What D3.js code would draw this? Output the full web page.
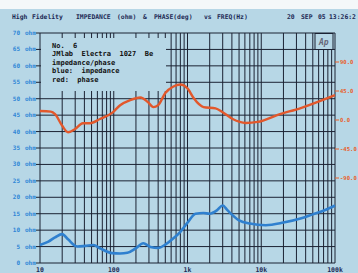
<!DOCTYPE html>
<html>
<head>
<meta charset="utf-8">
<script src="https://cdn.jsdelivr.net/npm/d3@7"></script>
<style>
  body { margin: 0; background: #fff; }
  svg text { font-family: "DejaVu Sans Mono", monospace; font-weight: bold; }
</style>
</head>
<body>
<svg id="chart" width="358" height="273"></svg>
<script>
// impedance (ohm) vs frequency (Hz)
var impFreq = [10, 13, 16, 20, 24, 32, 41, 53, 65, 95, 122, 153, 200, 252, 314, 403, 500, 645, 800, 1000, 1285, 1650, 2000, 2500, 3000, 3500, 5000, 7000, 11500, 20000, 35000, 50000, 75000, 100000];
var impOhm  = [5.5, 6.5, 7.8, 8.8, 7.2, 5.0, 5.2, 5.5, 4.5, 3.0, 2.9, 3.1, 4.5, 6.0, 4.9, 4.6, 5.6, 7.5, 9.5, 12.3, 15.0, 15.2, 15.0, 16.0, 17.5, 16.0, 13.0, 12.0, 11.5, 12.3, 13.6, 14.8, 16.2, 17.5];
// phase (deg) vs frequency (Hz)
var phFreq = [10, 14, 16, 20, 24, 30, 38, 48, 65, 95, 122, 167, 230, 290, 345, 400, 500, 645, 800, 1000, 1210, 1650, 2400, 3000, 4100, 6150, 9000, 16750, 34400, 100000];
var phDeg  = [14, 13, 9, -9, -19, -14, -5, -5, 1.5, 11, 23, 31, 35, 28, 20, 23, 42, 52, 55, 49, 34, 20, 18, 12, 1.5, -4.6, -3, 8, 18.5, 38.5];

var ohmTicks = [0, 5, 10, 15, 20, 25, 30, 35, 40, 45, 50, 55, 60, 65, 70];
var degTicks = [90, 45, 0, -45, -90];
var freqTicks = [10, 100, 1000, 10000, 100000];
var freqLabels = ['10', '100', '1k', '10k', '100k'];
var legendLines = ['No.  6', 'JMlab  Electra  1027  Be', 'impedance/phase', 'blue:  impedance', 'red:  phase'];
var header = [['High', 12], ['Fidelity', 32], ['IMPEDANCE', 76], ['(ohm)', 117], ['&', 143], ['PHASE(deg)', 154], ['vs', 204], ['FREQ(Hz)', 217], ['20', 287], ['SEP', 301], ['05', 318], ['13:26:2', 329]];

var bg = '#b7d7e6', gridC = '#1b2233';
var svg = d3.select('#chart');

var x = d3.scaleLog().domain([10, 100000]).range([40, 335]);
var y = d3.scaleLinear().domain([0, 70]).range([263, 33]);
var yp = d3.scaleLinear().domain([-90, 90]).range([178, 62]);

svg.append('rect').attr('width', 358).attr('height', 273).attr('fill', bg);
svg.append('rect').attr('width', 358).attr('height', 9).attr('fill', '#f4f8f9');

// header
svg.selectAll('text.hdr').data(header).enter().append('text')
  .attr('class', 'hdr').attr('x', function(d) { return d[1]; }).attr('y', 19)
  .attr('font-size', 6.4).attr('fill', '#1d2a55').text(function(d) { return d[0]; });

// vertical log grid
var vLines = [];
[10, 100, 1000, 10000].forEach(function(d) {
  for (var k = 1; k <= 9; k++) vLines.push(d * k);
});
vLines.push(100000);

var grid = svg.append('g');
grid.selectAll('line.v').data(vLines).enter().append('line')
  .attr('x1', function(d) { return x(d); }).attr('x2', function(d) { return x(d); })
  .attr('y1', y(70)).attr('y2', y(0))
  .attr('stroke', gridC).attr('stroke-width', 1);
grid.selectAll('line.h').data(ohmTicks).enter().append('line')
  .attr('x1', x(10)).attr('x2', x(100000))
  .attr('y1', function(d) { return y(d); }).attr('y2', function(d) { return y(d); })
  .attr('stroke', gridC).attr('stroke-width', 1);

// legend box hides the grid, leaves short top ticks
svg.append('rect').attr('x', 41).attr('y', 38).attr('width', 125).attr('height', 53).attr('fill', bg);

// Ap logo box
svg.append('rect').attr('x', 315).attr('y', 33.5).attr('width', 18).attr('height', 16)
  .attr('fill', bg).attr('stroke', gridC).attr('stroke-width', 1);
svg.append('text').attr('x', 319).attr('y', 45).attr('font-size', 8)
  .attr('font-style', 'italic').attr('font-weight', 'normal').attr('fill', '#667').text('Ap');

svg.selectAll('text.leg').data(legendLines).enter().append('text')
  .attr('class', 'leg').attr('x', 52).attr('y', function(d, i) { return 48 + i * 8.4; })
  .attr('font-size', 7).attr('fill', '#111').attr('xml:space', 'preserve').text(function(d) { return d; });

// left axis labels
var left = svg.append('g');
left.selectAll('text.n').data(ohmTicks).enter().append('text')
  .attr('x', 20).attr('y', function(d) { return y(d) + 2; }).attr('text-anchor', 'end')
  .attr('font-size', 6).attr('fill', '#2f86d6').text(function(d) { return d; });
left.selectAll('text.u').data(ohmTicks).enter().append('text')
  .attr('x', 25).attr('y', function(d) { return y(d) + 2; })
  .attr('font-size', 6).attr('fill', '#2f86d6').text('ohm');
left.selectAll('line').data(ohmTicks).enter().append('line')
  .attr('x1', 36).attr('x2', 40).attr('y1', function(d) { return y(d); }).attr('y2', function(d) { return y(d); })
  .attr('stroke', gridC);

// right axis labels
var right = svg.append('g');
right.selectAll('line').data(degTicks).enter().append('line')
  .attr('x1', 335).attr('x2', 339).attr('y1', function(d) { return yp(d); }).attr('y2', function(d) { return yp(d); })
  .attr('stroke', '#e8602c');
right.selectAll('text').data(degTicks).enter().append('text')
  .attr('x', 340).attr('y', function(d) { return yp(d) + 2.2; })
  .attr('font-size', 5.6).attr('fill', '#e8602c').text(function(d) { return d.toFixed(1); });

// bottom labels
svg.selectAll('text.f').data(freqTicks).enter().append('text')
  .attr('class', 'f').attr('x', function(d) { return x(d); }).attr('y', 272)
  .attr('text-anchor', 'middle').attr('font-size', 6.5).attr('fill', '#1d2a55')
  .text(function(d, i) { return freqLabels[i]; });

// curves
var impLine = d3.line().curve(d3.curveMonotoneX)
  .x(function(d, i) { return x(impFreq[i]); }).y(function(d) { return y(d); });
var phLine = d3.line().curve(d3.curveMonotoneX)
  .x(function(d, i) { return x(phFreq[i]); }).y(function(d) { return yp(d); });

svg.append('path').attr('d', phLine(phDeg)).attr('fill', 'none')
  .attr('stroke', '#e2582c').attr('stroke-width', 2.4).attr('stroke-linejoin', 'round');
svg.append('path').attr('d', impLine(impOhm)).attr('fill', 'none')
  .attr('stroke', '#2f80cf').attr('stroke-width', 2.6).attr('stroke-linejoin', 'round');
</script>
</body>
</html>
